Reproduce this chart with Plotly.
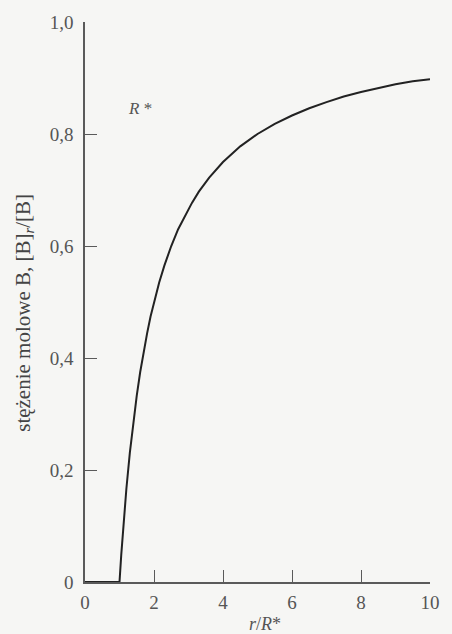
import plotly.graph_objects as go

# values
r_ratio = [0, 1.0, 1.05, 1.1, 1.15, 1.2, 1.3, 1.4, 1.5, 1.6, 1.7, 1.8, 1.9, 2.0, 2.15, 2.3, 2.5,
           2.7, 2.9, 3.1, 3.3, 3.6, 4.0, 4.5, 5.0, 5.5, 6.0, 6.5, 7.0, 7.5, 8.0, 8.5, 9.0, 9.5, 10.0]
conc = [0, 0, 0.048, 0.091, 0.13, 0.167, 0.231, 0.286, 0.333, 0.375, 0.412, 0.444, 0.474, 0.5,
        0.535, 0.565, 0.6, 0.63, 0.655, 0.677, 0.697, 0.722, 0.75, 0.778, 0.8, 0.818, 0.833,
        0.846, 0.857, 0.867, 0.875, 0.882, 0.889, 0.894, 0.898]

x_tickvals = [0, 2, 4, 6, 8, 10]
x_ticktext = ["0", "2", "4", "6", "8", "10"]
y_tickvals = [0, 0.2, 0.4, 0.6, 0.8, 1.0]
y_ticktext = ["0", "0,2", "0,4", "0,6", "0,8", "1,0"]

serif = "Liberation Serif"
ink = "#222222"
axis_col = "#5a5a5a"
label_col = "#555555"

W, H = 452, 634
ML, MR, MT, MB = 85, 12, 22, 52
PW, PH = W - ML - MR, H - MT - MB


def px_to_paper(px, py):
    return (px - ML) / PW, (H - MB - py) / PH


fig = go.Figure()
fig.add_trace(go.Scatter(x=r_ratio, y=conc, mode="lines",
                         line=dict(color=ink, width=2),
                         showlegend=False, hoverinfo="skip"))

fig.update_layout(
    width=W, height=H,
    margin=dict(l=ML, r=MR, t=MT, b=MB),
    paper_bgcolor="#f6f6f4", plot_bgcolor="#f6f6f4",
    font=dict(family=serif, size=18, color=label_col),
    xaxis=dict(range=[0, 10], tickvals=x_tickvals, ticktext=x_ticktext,
               ticks="inside", ticklen=12, tickwidth=1.3, tickcolor=axis_col,
               showline=True, linecolor=axis_col, linewidth=1.6,
               showgrid=False, zeroline=False, ticklabelstandoff=2,
               tickfont=dict(family=serif, size=19, color=label_col)),
    yaxis=dict(range=[0, 1.0], tickvals=y_tickvals, ticktext=y_ticktext,
               ticks="inside", ticklen=12, tickwidth=1.3, tickcolor=axis_col,
               showline=True, linecolor=axis_col, linewidth=1.6,
               showgrid=False, zeroline=False, ticklabelstandoff=6,
               tickfont=dict(family=serif, size=19, color=label_col)),
)

fig.add_annotation(x=1.18, y=0.846, xref="x", yref="y", xanchor="left",
                   yanchor="middle", showarrow=False,
                   text="<i>R</i> *", font=dict(family=serif, size=17, color=label_col))

# x title
ax, ay = px_to_paper(270, 624)
fig.add_annotation(x=ax, y=ay, xref="paper", yref="paper", showarrow=False,
                   xanchor="center", yanchor="middle",
                   text="<i>r</i>/<i>R</i>*",
                   font=dict(family=serif, size=18, color=label_col))

# y title
tx, ty = px_to_paper(22, 313)
fig.add_annotation(x=tx, y=ty, xref="paper", yref="paper", showarrow=False,
                   xanchor="center", yanchor="middle",
                   text="stężenie molowe B, [B]<sub><i>r</i></sub>/[B]",
                   textangle=-90,
                   font=dict(family=serif, size=21, color="#444444"))

fig.write_html("out.html", config={"displayModeBar": False},
               post_script="document.body.style.margin='0';document.body.style.overflow='hidden';")
